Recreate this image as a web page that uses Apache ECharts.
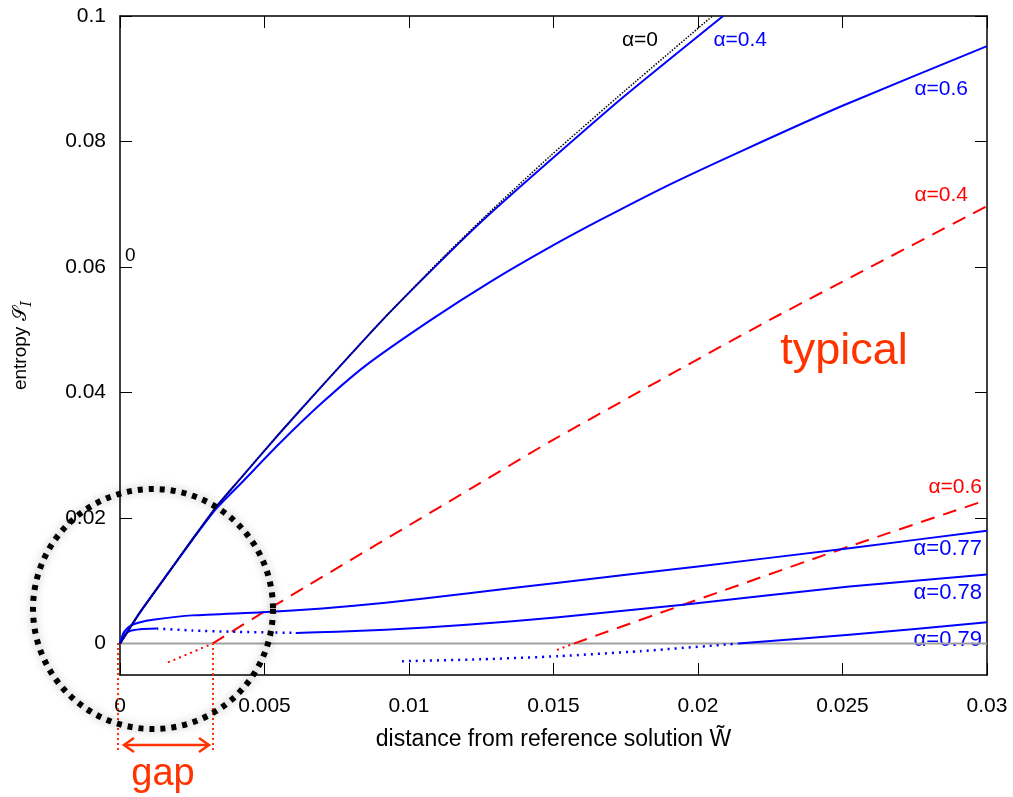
<!DOCTYPE html>
<html><head><meta charset="utf-8">
<script src="https://cdn.jsdelivr.net/npm/echarts@6/dist/echarts.min.js"></script>
<style>html,body{margin:0;padding:0;background:#fff}#c{width:1013px;height:797px}</style>
</head><body><div id="c"></div>
<script>
// ---- tick values ----
const xTicks = [0, 0.005, 0.01, 0.015, 0.02, 0.025, 0.03];
const yTicks = [0, 0.02, 0.04, 0.06, 0.08, 0.1];
const xTickLabels = ['0', '0.005', '0.01', '0.015', '0.02', '0.025', '0.03'];
const yTickLabels = ['0', '0.02', '0.04', '0.06', '0.08', '0.1'];

// ---- series values [distance, entropy] ----
const alpha0 = [[0,0],[0.00068,0.0049],[0.00171,0.0115],[0.0025,0.0166],[0.00333,0.0218],[0.00413,0.0261],[0.0055,0.0334],[0.007,0.0411],[0.00907,0.0515],[0.011,0.0607],[0.01264,0.0681],[0.01489,0.0777],[0.0175,0.0882],[0.0205,0.1]];
const blue04 = [[0,0],[0.00068,0.0049],[0.00171,0.0115],[0.0025,0.0166],[0.00333,0.0218],[0.00413,0.0261],[0.0055,0.0334],[0.007,0.0411],[0.00907,0.0515],[0.011,0.0605],[0.01264,0.0678],[0.01489,0.077],[0.0175,0.0874],[0.02087,0.1]];
const blue06 = [[0,0],[0.00068,0.0049],[0.00171,0.0115],[0.0025,0.0165],[0.00333,0.0215],[0.0042,0.0256],[0.0055,0.0318],[0.007,0.0384],[0.0085,0.0443],[0.0108,0.0517],[0.0128,0.0576],[0.01489,0.0632],[0.01662,0.0675],[0.019,0.0731],[0.02156,0.0786],[0.025,0.0857],[0.03,0.0952]];
const blue077 = [[0,0],[0.00012,0.0017],[0.00034,0.0028],[0.0007,0.0034],[0.00114,0.0038],[0.0025,0.0045],[0.00493,0.005],[0.007,0.0056],[0.00919,0.0065],[0.012,0.008],[0.01517,0.0097],[0.02,0.0123],[0.02524,0.0152],[0.03,0.018]];
const blue078Solid1 = [[0,0],[0.00012,0.0013],[0.00034,0.002],[0.0007,0.0023],[0.00126,0.0024]];
const blue078Dotted = [[0.00126,0.0024],[0.0025,0.0021],[0.00378,0.0019],[0.00608,0.0017]];
const blue078Solid2 = [[0.00608,0.0017],[0.0075,0.0019],[0.00919,0.0022],[0.012,0.003],[0.01517,0.0042],[0.01949,0.0062],[0.02524,0.0091],[0.03,0.011]];
const blue079Dotted = [[0.00976,-0.0028],[0.0125,-0.0025],[0.01517,-0.002],[0.018,-0.0012],[0.02139,0]];
const blue079Solid = [[0.02139,0],[0.02524,0.0014],[0.03,0.0034]];
const red04Dotted = [[0.00166,-0.003],[0.0032,0]];
const red04Dashed = [[0.0032,0],[0.00528,0.0059],[0.01247,0.0256],[0.015,0.0325],[0.02225,0.051],[0.03,0.0697]];
const red06Dotted = [[0.01512,-0.001],[0.0157,0]];
const red06Dashed = [[0.0157,0],[0.01949,0.0062],[0.02524,0.0155],[0.03,0.0229]];
const zeroLine = [[0,0],[0.03,0]];

const BLUE = '#0000ff', RED = '#ff0000', ORANGE = '#ff3300';
const FONT = 'Liberation Sans, Arial, Helvetica, sans-serif';

function ser(data, color, type, width, z, smooth) {
  return {type:'line', data, showSymbol:false, symbol:'none', smooth: smooth || false,
    lineStyle:{color, type, width, cap:'butt', join:'round'}, z: z||3, silent:true, animation:false, clip:true};
}

const chart = echarts.init(document.getElementById('c'), null, {renderer:'canvas'});
const axisCommon = {
  type:'value', splitLine:{show:false},
  axisLine:{show:true, onZero:false, lineStyle:{color:'#000', width:1.5}},
  axisTick:{show:true, inside:true, length:12, lineStyle:{color:'#000', width:1}},
};
const fmt = (ticks, labels) => (v) => { const i = ticks.findIndex(t => Math.abs(t - v) < 1e-9); return i >= 0 ? labels[i] : ''; };
const S = 0.2;
chart.setOption({
  animation:false,
  grid:{left:118, right:26, top:16, bottom:122, containLabel:false},
  xAxis:[
    Object.assign({}, axisCommon, {position:'bottom', min:0, max:0.03, interval:0.005,
      name:'distance from reference solution W\u0303', nameLocation:'middle', nameGap:53,
      nameTextStyle:{fontFamily:FONT, fontSize:23, color:'#000'},
      axisTick:Object.assign({}, axisCommon.axisTick, {customValues:xTicks}),
      axisLabel:{customValues:xTicks, margin:21, fontFamily:FONT, fontSize:21, color:'#000',
        formatter:fmt(xTicks, xTickLabels)}}),
    Object.assign({}, axisCommon, {position:'top', min:0, max:0.03, interval:0.005,
      axisTick:Object.assign({}, axisCommon.axisTick, {customValues:xTicks}),
      axisLabel:{show:false}})
  ],
  yAxis:[
    Object.assign({}, axisCommon, {position:'left', min:-0.005, max:0.1, interval:0.005,
      name:'{a|entropy }{s|𝒮}{i|I}', nameLocation:'middle', nameGap:86, nameRotate:90,
      nameTextStyle:{color:'#000',
        rich:{
          a:{fontFamily:FONT, fontSize:19, color:'#000', lineHeight:26, verticalAlign:'middle'},
          s:{fontFamily:'DejaVu Serif', fontSize:19, color:'#000', lineHeight:26, verticalAlign:'middle'},
          i:{fontFamily:'DejaVu Serif', fontStyle:'italic', fontSize:14, color:'#000', lineHeight:14, padding:[12,0,0,0], verticalAlign:'middle'}
        }},
      axisTick:Object.assign({}, axisCommon.axisTick, {customValues:yTicks}),
      axisLabel:{customValues:yTicks, margin:14, fontFamily:FONT, fontSize:21, color:'#000',
        formatter:fmt(yTicks, yTickLabels)}}),
    Object.assign({}, axisCommon, {position:'right', min:-0.005, max:0.1, interval:0.005,
      axisTick:Object.assign({}, axisCommon.axisTick, {customValues:yTicks}),
      axisLabel:{show:false}})
  ],
  series:[
    ser(zeroLine, '#a0a0a0', 'solid', 2, 1),
    ser(red04Dotted, RED, [2,4], 2),
    ser(red04Dashed, RED, [14,9], 2, 3, S),
    ser(red06Dotted, RED, [2,4], 2),
    ser(red06Dashed, RED, [14,9], 2, 3, S),
    ser(blue06, BLUE, 'solid', 2, 3, S),
    ser(blue077, BLUE, 'solid', 2, 3, S),
    ser(blue078Solid1, BLUE, 'solid', 2, 3, S),
    ser(blue078Dotted, BLUE, [2,5], 2.5, 3, S),
    ser(blue078Solid2, BLUE, 'solid', 2, 3, S),
    ser(blue079Dotted, BLUE, [2,5], 2.5, 3, S),
    ser(blue079Solid, BLUE, 'solid', 2, 3, S),
    ser(blue04, BLUE, 'solid', 2, 3, S),
    ser(alpha0, '#000', [1.5,1.5], 1.5, 4, S)
  ],
  graphic:[
    {type:'text', x:125, y:256, style:{text:'0', font:'19px '+FONT, fill:'#000', verticalAlign:'middle'}},
    {type:'text', x:658, y:40, style:{text:'α=0', font:'21px '+FONT, fill:'#000', align:'right', verticalAlign:'middle'}},
    {type:'text', x:767, y:40, style:{text:'α=0.4', font:'21px '+FONT, fill:BLUE, align:'right', verticalAlign:'middle'}},
    {type:'text', x:968, y:89, style:{text:'α=0.6', font:'21px '+FONT, fill:BLUE, align:'right', verticalAlign:'middle'}},
    {type:'text', x:968, y:195, style:{text:'α=0.4', font:'21px '+FONT, fill:RED, align:'right', verticalAlign:'middle'}},
    {type:'text', x:844, y:352, style:{text:'typical', font:'45px '+FONT, fill:ORANGE, align:'center', verticalAlign:'middle'}},
    {type:'text', x:982, y:487, style:{text:'α=0.6', font:'21px '+FONT, fill:RED, align:'right', verticalAlign:'middle'}},
    {type:'text', x:982, y:549, style:{text:'α=0.77', font:'22px '+FONT, fill:BLUE, align:'right', verticalAlign:'middle'}},
    {type:'text', x:982, y:593, style:{text:'α=0.78', font:'22px '+FONT, fill:BLUE, align:'right', verticalAlign:'middle'}},
    {type:'text', x:982, y:640, style:{text:'α=0.79', font:'22px '+FONT, fill:BLUE, align:'right', verticalAlign:'middle'}},
    {type:'circle', z:100, shape:{cx:153, cy:609, r:120},
      style:{fill:'none', stroke:'#000', lineWidth:6, lineDash:[5,6], shadowBlur:8, shadowColor:'rgba(0,0,0,0.35)'}},
    {type:'line', z:90, shape:{x1:118, y1:643, x2:118, y2:753}, style:{stroke:ORANGE, lineWidth:2, lineDash:[2,3]}},
    {type:'line', z:90, shape:{x1:213, y1:643, x2:213, y2:753}, style:{stroke:ORANGE, lineWidth:2, lineDash:[2,3]}},
    {type:'line', z:90, shape:{x1:124, y1:745, x2:209, y2:745}, style:{stroke:ORANGE, lineWidth:2.5}},
    {type:'polyline', z:90, shape:{points:[[134,738],[124,745],[134,752]]}, style:{stroke:ORANGE, lineWidth:2.5, fill:'none'}},
    {type:'polyline', z:90, shape:{points:[[199,738],[209,745],[199,752]]}, style:{stroke:ORANGE, lineWidth:2.5, fill:'none'}},
    {type:'text', x:163, y:775, style:{text:'gap', font:'38px '+FONT, fill:ORANGE, align:'center', verticalAlign:'middle'}}
  ]
});
</script></body></html>
